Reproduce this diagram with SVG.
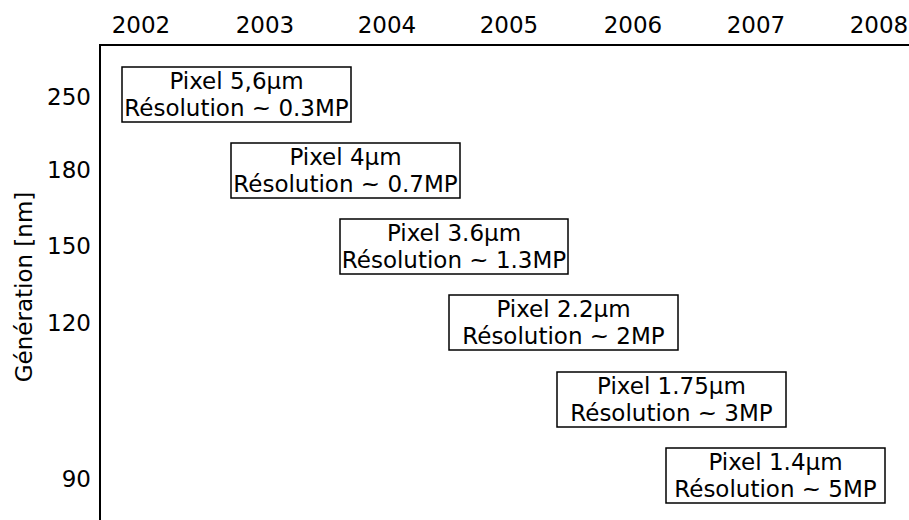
<svg xmlns="http://www.w3.org/2000/svg" width="909" height="520" viewBox="0 0 909 520">
<style>
text{font-family:"DejaVu Sans",Verdana,sans-serif;font-size:23px;fill:#000}
.c{text-anchor:middle}
.e{text-anchor:end}
.box{fill:#fff;stroke:#000;stroke-width:1.5}
.axis{stroke:#000;stroke-width:2;fill:none}
</style>
<rect width="909" height="520" fill="#fff"/>
<g id="axes">
<path class="axis" d="M909 45 H100 V520"/>
</g>
<g id="years">
<text class="c" x="141" y="33">2002</text>
<text class="c" x="265" y="33">2003</text>
<text class="c" x="387" y="33">2004</text>
<text class="c" x="509" y="33">2005</text>
<text class="c" x="633" y="33">2006</text>
<text class="c" x="756" y="33">2007</text>
<text class="c" x="879" y="33">2008</text>
</g>
<g id="gens">
<text class="e" x="91" y="105">250</text>
<text class="e" x="91" y="178">180</text>
<text class="e" x="91" y="254">150</text>
<text class="e" x="91" y="331">120</text>
<text class="e" x="91" y="487">90</text>
<text class="c" transform="translate(32 287) rotate(-90)">Génération [nm]</text>
</g>
<g id="connectors"></g>
<g id="n1">
<rect class="box" x="122" y="67" width="229" height="55"/>
<text class="c" x="236.5" y="89">Pixel 5,6µm</text>
<text class="c" x="236.5" y="116">Résolution ~ 0.3MP</text>
</g>
<g id="n2">
<rect class="box" x="231" y="143" width="229" height="55"/>
<text class="c" x="345.5" y="165">Pixel 4µm</text>
<text class="c" x="345.5" y="192">Résolution ~ 0.7MP</text>
</g>
<g id="n3">
<rect class="box" x="340" y="219" width="228" height="55"/>
<text class="c" x="454" y="241">Pixel 3.6µm</text>
<text class="c" x="454" y="268">Résolution ~ 1.3MP</text>
</g>
<g id="n4">
<rect class="box" x="449" y="295" width="229" height="55"/>
<text class="c" x="563.5" y="317">Pixel 2.2µm</text>
<text class="c" x="563.5" y="344">Résolution ~ 2MP</text>
</g>
<g id="n5">
<rect class="box" x="557" y="372" width="229" height="55"/>
<text class="c" x="671.5" y="394">Pixel 1.75µm</text>
<text class="c" x="671.5" y="421">Résolution ~ 3MP</text>
</g>
<g id="n6">
<rect class="box" x="666" y="448" width="219" height="55"/>
<text class="c" x="775.5" y="470">Pixel 1.4µm</text>
<text class="c" x="775.5" y="497">Résolution ~ 5MP</text>
</g>
</svg>
